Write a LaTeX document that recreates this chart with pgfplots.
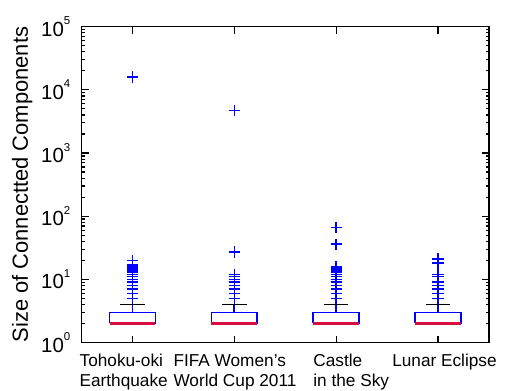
\documentclass[border=0pt]{standalone}
\usepackage{fontspec}
\setmainfont{Liberation Sans}
\usepackage{pgfplots}
\pgfplotsset{compat=1.18}
\definecolor{mblue}{RGB}{0,0,255}
\definecolor{mred}{RGB}{215,15,65}
\newcommand\tp[1]{10\raisebox{11.5bp}{\fontsize{11.5}{12}\selectfont #1}}
\newcommand\xl[3]{\hspace*{#1}\begin{tabular}[t]{@{}l@{}}#2\\#3\end{tabular}}
\begin{document}
\begin{tikzpicture}
\begin{axis}[
  name=ax,
  scale only axis,
  width=407.5bp, height=315.8bp,
  xmin=0.5, xmax=4.5,
  ymode=log, log basis y=10, ymin=1, ymax=1e5,
  xtick={1,2,3,4},
  xticklabels={
    {\xl{-53bp}{Tohoku-oki}{Earthquake}},
    {\xl{-61bp}{FIFA Women’s}{World Cup 2011}},
    {\xl{-23bp}{Castle}{in the Sky}},
    {\xl{-46bp}{Lunar Eclipse}{}}},
  ytick={1,10,100,1000,10000,100000},
  minor ytick={2,3,4,5,6,7,8,9,20,30,40,50,60,70,80,90,
    200,300,400,500,600,700,800,900,2000,3000,4000,5000,6000,7000,8000,9000,
    20000,30000,40000,50000,60000,70000,80000,90000},
  yticklabels={\tp{0},\tp{1},\tp{2},\tp{3},\tp{4},\tp{5}},
  tick align=inside,
  major tick length=7bp,
  minor tick length=3.5bp,
  axis line style={line width=1.5bp, black},
  tick style={line width=1.2bp, black},
  xticklabel style={anchor=north west, inner sep=0pt, yshift=-10bp,
    font=\fontsize{17.3}{20}\selectfont},
  yticklabel style={inner sep=0pt, xshift=-11bp,
    font=\fontsize{20.5}{24}\selectfont},
  ylabel={Size of Connectted Components},
  ylabel style={at={([xshift=-49bp]axis description cs:0,0.5)}, anchor=south,
    inner sep=0pt, font=\fontsize{22}{24}\selectfont},
]
% boxes (lower quartile 2, upper quartile 3), one per category
\addplot[mblue, line width=1.7bp] coordinates {(0.775,2)(1.225,2)(1.225,3)(0.775,3)(0.775,2)};
\addplot[mblue, line width=1.7bp] coordinates {(1.775,2)(2.225,2)(2.225,3)(1.775,3)(1.775,2)};
\addplot[mblue, line width=1.7bp] coordinates {(2.775,2)(3.225,2)(3.225,3)(2.775,3)(2.775,2)};
\addplot[mblue, line width=1.7bp] coordinates {(3.775,2)(4.225,2)(4.225,3)(3.775,3)(3.775,2)};
% upper whiskers 3 -> 4
\addplot[mblue, line width=1.7bp] coordinates {(1,3)(1,4)};
\addplot[mblue, line width=1.7bp] coordinates {(2,3)(2,4)};
\addplot[mblue, line width=1.7bp] coordinates {(3,3)(3,4)};
\addplot[mblue, line width=1.7bp] coordinates {(4,3)(4,4)};
% whisker caps at 4
\addplot[black, line width=1.7bp] coordinates {(0.88,4)(1.12,4)};
\addplot[black, line width=1.7bp] coordinates {(1.88,4)(2.12,4)};
\addplot[black, line width=1.7bp] coordinates {(2.88,4)(3.12,4)};
\addplot[black, line width=1.7bp] coordinates {(3.88,4)(4.12,4)};
% medians at 2
\addplot[mred, line width=2.1bp] coordinates {(0.775,2)(1.225,2)};
\addplot[mred, line width=2.1bp] coordinates {(1.775,2)(2.225,2)};
\addplot[mred, line width=2.1bp] coordinates {(2.775,2)(3.225,2)};
\addplot[mred, line width=2.1bp] coordinates {(3.775,2)(4.225,2)};
% outliers
\addplot[mblue, only marks, mark=+, mark size=5.6bp, mark options={line width=1.5bp}] coordinates {
  (1,5)(1,6)(1,7)(1,8)(1,9)(1,10)(1,11)(1,12)(1,13)(1,14)(1,15)(1,16)(1,17)(1,20)(1,16000)
  (2,5)(2,6)(2,7)(2,8)(2,9)(2,10)(2,11)(2,12)(2,27)(2,4700)
  (3,5)(3,6)(3,7)(3,8)(3,9)(3,10)(3,11)(3,12)(3,13)(3,14)(3,15)(3,16)(3,36)(3,66)
  (4,5)(4,6)(4,7)(4,8)(4,9)(4,11)(4,12)(4,18)(4,21)};
\end{axis}
\pgfresetboundingbox
\path[use as bounding box] ([xshift=-81.5bp,yshift=-48.5bp]ax.south west)
  rectangle ([xshift=16bp,yshift=26.7bp]ax.north east);
\end{tikzpicture}
\end{document}
